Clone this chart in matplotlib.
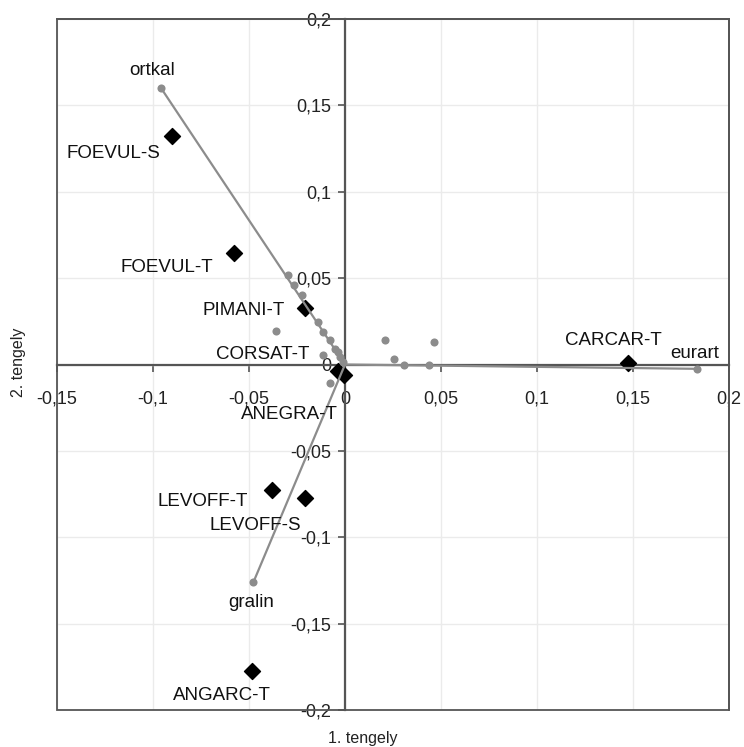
import matplotlib
matplotlib.use("Agg")
import matplotlib.pyplot as plt
from matplotlib.patches import Rectangle
from matplotlib.ticker import FuncFormatter, MultipleLocator

plt.rcParams["font.family"] = ["Liberation Sans", "DejaVu Sans"]

# species scores (gray dots); the three named ones get a vector from the origin
arrow_names = ["ortkal", "gralin", "eurart"]
arrow_x = [-0.0958, -0.0477, 0.1833]
arrow_y = [0.160, -0.126, -0.0025]

other_x = [-0.0295, -0.0266, -0.0226, -0.0139, -0.0113, -0.0078, -0.0052, -0.0035,
           -0.0026, -0.0009, -0.0359, -0.0113, 0.0208, 0.0465, 0.0257, 0.0307,
           0.0438, -0.0078]
other_y = [0.0516, 0.0458, 0.0400, 0.0245, 0.0187, 0.0139, 0.0091, 0.0071,
           0.0042, 0.0017, 0.0193, 0.0055, 0.0139, 0.0133, 0.0029, 0.0,
           0.0, -0.0106]

# sample scores (black diamonds)
site_names = ["FOEVUL-S", "FOEVUL-T", "PIMANI-T", "CORSAT-T", "ANEGRA-T",
              "LEVOFF-T", "LEVOFF-S", "ANGARC-T", "CARCAR-T"]
site_x = [-0.0903, -0.0576, -0.0208, -0.0035, -0.0005, -0.0382, -0.0208, -0.0483, 0.1474]
site_y = [0.1322, 0.0645, 0.0329, -0.0040, -0.0060, -0.0729, -0.0773, -0.1774, 0.0010]

# label offsets in pixels (dx, dy) from each point
arrow_offsets = [(-9, 18), (-2, -20), (-2, 15)]
site_offsets = [(-58, -17), (-68, -14), (-61, -3), (-76, 17), (-55, -40),
                (-69, -11), (-50, -27), (-30, -25), (-15, 22)]

gray = "#8c8c8c"
axis_col = "#555555"

fig = plt.figure(figsize=(7.44, 7.47), dpi=100)
ax = fig.add_axes([57 / 744, 1 - 710 / 747, 672 / 744, 691 / 747])
ax.set_xlim(-0.15, 0.2)
ax.set_ylim(-0.2, 0.2)

ax.xaxis.set_major_locator(MultipleLocator(0.05))
ax.yaxis.set_major_locator(MultipleLocator(0.05))


def comma_fmt(v, pos):
    if abs(v) < 1e-9:
        return "0"
    return f"{v:g}".replace(".", ",")


ax.xaxis.set_major_formatter(FuncFormatter(comma_fmt))
ax.yaxis.set_major_formatter(FuncFormatter(comma_fmt))

ax.grid(True, color="#ebebeb", linewidth=1)
ax.set_axisbelow(True)

# axes crossing at the origin
ax.spines["left"].set_position(("data", 0))
ax.spines["bottom"].set_position(("data", 0))
for side in ["left", "bottom"]:
    ax.spines[side].set_color(axis_col)
    ax.spines[side].set_linewidth(1.6)
for side in ["top", "right"]:
    ax.spines[side].set_color(axis_col)
    ax.spines[side].set_linewidth(1.3)
ax.add_patch(Rectangle((0, 0), 1, 1, transform=ax.transAxes, fill=False,
                       edgecolor=axis_col, linewidth=1.3, clip_on=False, zorder=2.5))

ax.tick_params(axis="both", direction="out", length=5, width=1.2, color=axis_col,
               labelsize=13, labelcolor="#222222")
ax.tick_params(axis="x", pad=14)
ax.tick_params(axis="y", pad=5)

# diamonds first, vectors and dots on top
ax.scatter(site_x, site_y, marker="D", s=66, color="black", zorder=3)

for x, y in zip(arrow_x, arrow_y):
    ax.plot([0, x], [0, y], color=gray, linewidth=1.6, zorder=4)
ax.scatter(other_x, other_y, s=34, color=gray, zorder=5, linewidths=0)
ax.scatter(arrow_x, arrow_y, s=34, color=gray, zorder=5, linewidths=0)

for name, x, y, (dx, dy) in zip(arrow_names, arrow_x, arrow_y, arrow_offsets):
    ax.annotate(name, (x, y), xytext=(dx, dy), textcoords="offset pixels",
                ha="center", va="center", fontsize=13.5, color="#111111", zorder=6)
for name, x, y, (dx, dy) in zip(site_names, site_x, site_y, site_offsets):
    ax.annotate(name, (x, y), xytext=(dx, dy), textcoords="offset pixels",
                ha="center", va="center", fontsize=13.5, color="#111111", zorder=6)

fig.text(18 / 744, 1 - 362 / 747, "2. tengely", rotation=90, ha="center", va="center",
         fontsize=11.5, color="#222222")
fig.text(363 / 744, 1 - 738 / 747, "1. tengely", ha="center", va="center",
         fontsize=11.5, color="#222222")

fig.savefig("out.png", dpi=100)
